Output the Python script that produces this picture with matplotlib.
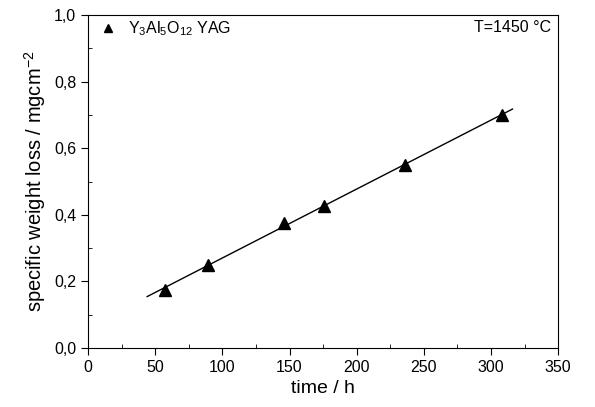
import numpy as np
import matplotlib
matplotlib.use("Agg")
import matplotlib.pyplot as plt
from matplotlib.ticker import MultipleLocator, FuncFormatter

plt.rcParams['font.family'] = ['Liberation Sans', 'DejaVu Sans']
plt.rcParams['mathtext.fontset'] = 'custom'
plt.rcParams['mathtext.rm'] = 'Liberation Sans'
plt.rcParams['mathtext.it'] = 'Liberation Sans:italic'

# Messwerte
time_h = [57, 89, 146, 176, 236, 308]
weight_loss = [0.175, 0.25, 0.375, 0.425, 0.55, 0.70]

# lineare Anpassung
k, d = np.polyfit(time_h, weight_loss, 1)
fit_x = np.array([44, 316])
fit_y = k * fit_x + d

fig = plt.figure(figsize=(5.95, 4.07), dpi=100)
ax = fig.add_axes([0.148, 0.145, 0.790, 0.818])

ax.plot(fit_x, fit_y, color="black", lw=1.0)
ax.plot(time_h, weight_loss, "^", color="black", ms=8.5, label="Y$_3$Al$_5$O$_{12}$ YAG")

ax.set_xlim(0, 350)
ax.set_ylim(0, 1.0)
ax.xaxis.set_major_locator(MultipleLocator(50))
ax.xaxis.set_minor_locator(MultipleLocator(25))
ax.yaxis.set_major_locator(MultipleLocator(0.2))
ax.yaxis.set_minor_locator(MultipleLocator(0.1))
ax.yaxis.set_major_formatter(FuncFormatter(lambda v, p: f"{v:.1f}".replace(".", ",")))
ax.tick_params(which="major", direction="out", length=5, labelsize=11.5)
ax.tick_params(which="minor", direction="in", length=3)

ax.set_xlabel("time / h", fontsize=14)
ax.set_ylabel("specific weight loss / mgcm$^{-2}$", fontsize=14.5)

ax.legend(loc="upper left", bbox_to_anchor=(0.0, 1.02), frameon=False, fontsize=11.5,
          handlelength=1.1, handletextpad=0.7, borderaxespad=0.3, markerscale=0.7)
ax.text(0.985, 0.985, "T=1450 °C", transform=ax.transAxes, ha="right", va="top", fontsize=11.5)

fig.savefig("out.png", dpi=100)
